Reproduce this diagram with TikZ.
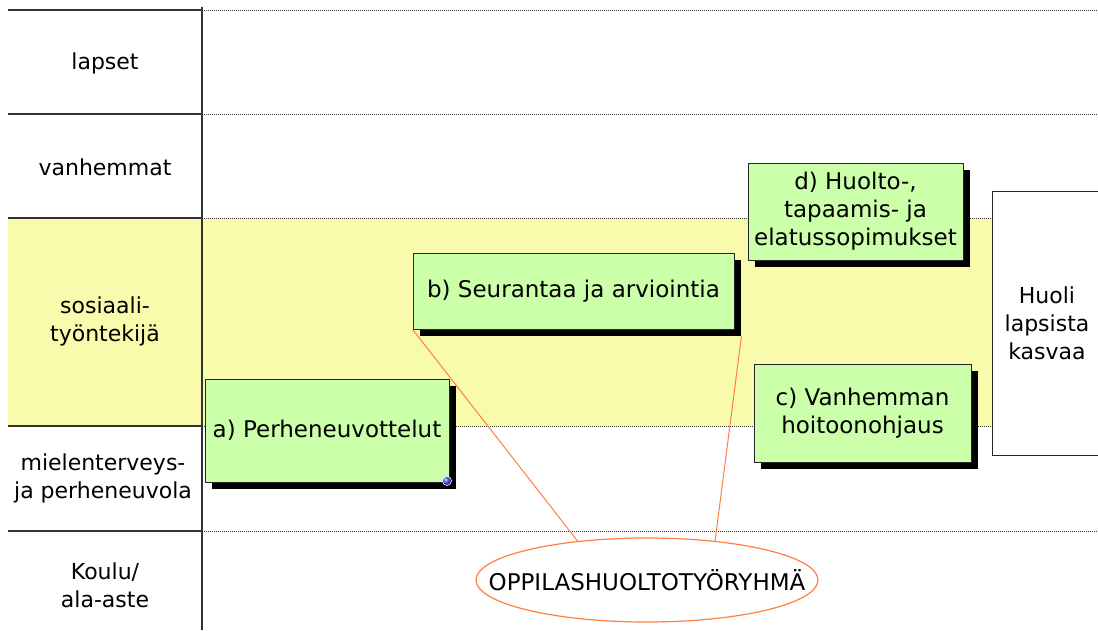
\documentclass[tikz,border=0pt]{standalone}
\usepackage{fontspec}
\setmainfont{DejaVu Sans}
\usepackage{tikz}
\usetikzlibrary{calc,shapes,shadows}
\definecolor{bandyellow}{RGB}{248,250,172}
\definecolor{boxgreen}{RGB}{204,255,170}
\definecolor{callout}{RGB}{255,128,64}
\tikzset{
  rowlabel/.style={align=center, font=\fontsize{22}{28}\selectfont},
  task/.style={draw=black!85, line width=0.8pt, fill=boxgreen, align=center, inner sep=0pt,
    font=\fontsize{23}{28}\selectfont,
    drop shadow={shadow xshift=7pt, shadow yshift=-7pt, fill=black, opacity=1}},
  sep/.style={black!80, line width=1.3pt},
  fine/.style={black!80, line width=0.8pt, dash pattern=on 1pt off 1pt}
}

\begin{document}
\begin{tikzpicture}[x=1pt,y=-1pt]
        \useasboundingbox[fill=white] (0,0) rectangle (1098,630);
        \fill[bandyellow] (8,218) rectangle (1098,426);
        \foreach \y in {10,114,218,426,531}
        {
        \draw[sep] (8,\y) -- (202,\y);
        \draw[fine] (202,\y) -- (1098,\y);
        }
        \draw[sep] (202,7) -- (202,630);

        \node[rowlabel] (lapset) at (105,63) {lapset};
        \node[rowlabel] (vanhemmat) at (105,167) {vanhemmat};
        \node[rowlabel] (sosiaali) at (105,321) {sosiaali-\\työntekijä};
        \node[rowlabel] (mielenterveys) at (103,478) {mielenterveys-\\ja perheneuvola};
        \node[rowlabel] (koulu) at (105,585) {Koulu/\\ala-aste};

        \node[rowlabel, draw=black!85, line width=0.8pt, fill=white, inner sep=0pt,
            minimum width=110pt, minimum height=264pt] (huoli) at (1047,323) {Huoli\\lapsista\\kasvaa};

        \node[task, minimum width=244pt, minimum height=103pt] (a) at (327,430.5) {a) Perheneuvottelut};
        \node[task, minimum width=321pt, minimum height=76pt] (b) at (573.5,291) {b) Seurantaa ja arviointia};
        \node[task, minimum width=217pt, minimum height=98pt] (c) at (862.5,413) {c) Vanhemman\\hoitoonohjaus};
        \node[task, minimum width=215pt, minimum height=97pt] (d) at (855.5,211.5) {d) Huolto-,\\tapaamis- ja\\elatussopimukset};
        \shade[ball color=blue!70, draw=white, line width=0.6pt] (447,481) circle (4.5);

        \draw[callout, line width=1.2pt] (647,580) ellipse [x radius=171, y radius=42];
        \node[font=\fontsize{23}{28}\selectfont] (ryhma) at (647,580) {OPPILASHUOLTOTYÖRYHMÄ};
        \coordinate (e1) at (578,541.6);
        \coordinate (e2) at (715,541.5);
        \coordinate (bs) at ([shift={(7pt,-7pt)}]b.south east);
        \draw[callout, line width=1pt] (b.south west) -- (e1);
        \draw[callout, line width=1pt] (bs) -- (e2);
\end{tikzpicture}
\end{document}
